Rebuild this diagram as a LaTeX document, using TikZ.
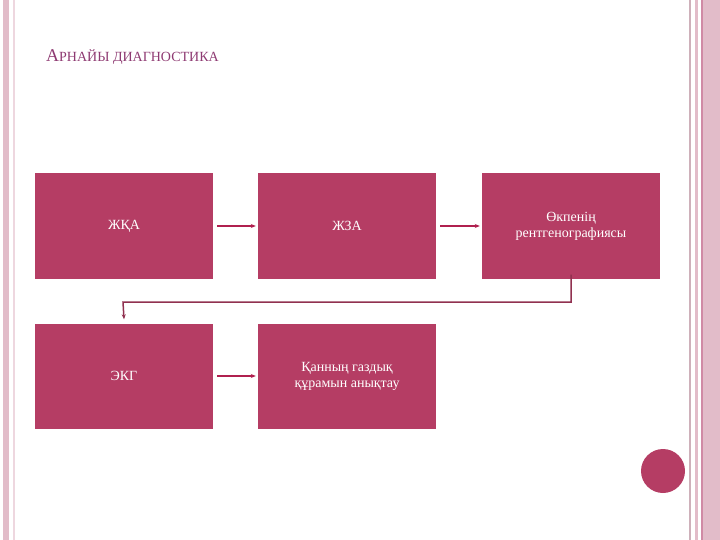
\documentclass[tikz,border=0pt]{standalone}
\usepackage{fontspec}
\setmainfont{Liberation Serif}
\definecolor{boxc}{HTML}{B53D64}
\definecolor{titc}{HTML}{8E3A72}
\definecolor{strp}{HTML}{E2BCC9}
\definecolor{strd}{HTML}{D08AA5}
\definecolor{arr}{HTML}{B0204F}
\tikzset{x=1pt,y=-1pt,
 blk/.style={fill=boxc,draw=none,minimum width=178pt,minimum height=105pt,text=white,align=center,font=\fontsize{14}{16}\selectfont,inner sep=2pt},
 con/.style={draw=arr,line width=1.2pt,-{Stealth[length=5pt,width=4pt]}}}
\usetikzlibrary{arrows.meta}
\begin{document}
\begin{tikzpicture}
\useasboundingbox (0,0) rectangle (720,540);
\fill[strp] (3,0) rectangle (9,540);
\fill[strp!60] (13,0) rectangle (15,540);
\fill[strp!80!gray] (689,0) rectangle (691,540);
\fill[strp] (695,0) rectangle (698,540);
\fill[strd] (701,0) rectangle (703,540);
\fill[strp] (703,0) rectangle (720,540);
\node[anchor=base west,text=titc,inner sep=0] (t) at (46,62) {\fontsize{18}{20}\selectfont А\fontsize{14}{16}\selectfont РНАЙЫ ДИАГНОСТИКА};
\node[blk] (a) at (124,226) {ЖҚА};
\node[blk] (b) at (347,226) {ЖЗА};
\node[blk] (c) at (571,226) {Өкпенің\\рентгенографиясы};
\node[blk] (d) at (124,376) {ЭКГ};
\node[blk] (e) at (347,376) {Қанның газдық\\құрамын анықтау};
\draw[con] ([xshift=4pt]a.east) -- ([xshift=-2pt]b.west);
\draw[con] ([xshift=4pt]b.east) -- ([xshift=-2pt]c.west);
\draw[con] ([xshift=4pt]d.east) -- ([xshift=-2pt]e.west);
\draw[con,line width=1.5pt,draw=boxc!80!black] ([yshift=4pt]c.south) |- (123,302) -- ([yshift=4pt]d.north);
\fill[boxc] (663,471) circle (22);
\end{tikzpicture}
\end{document}
